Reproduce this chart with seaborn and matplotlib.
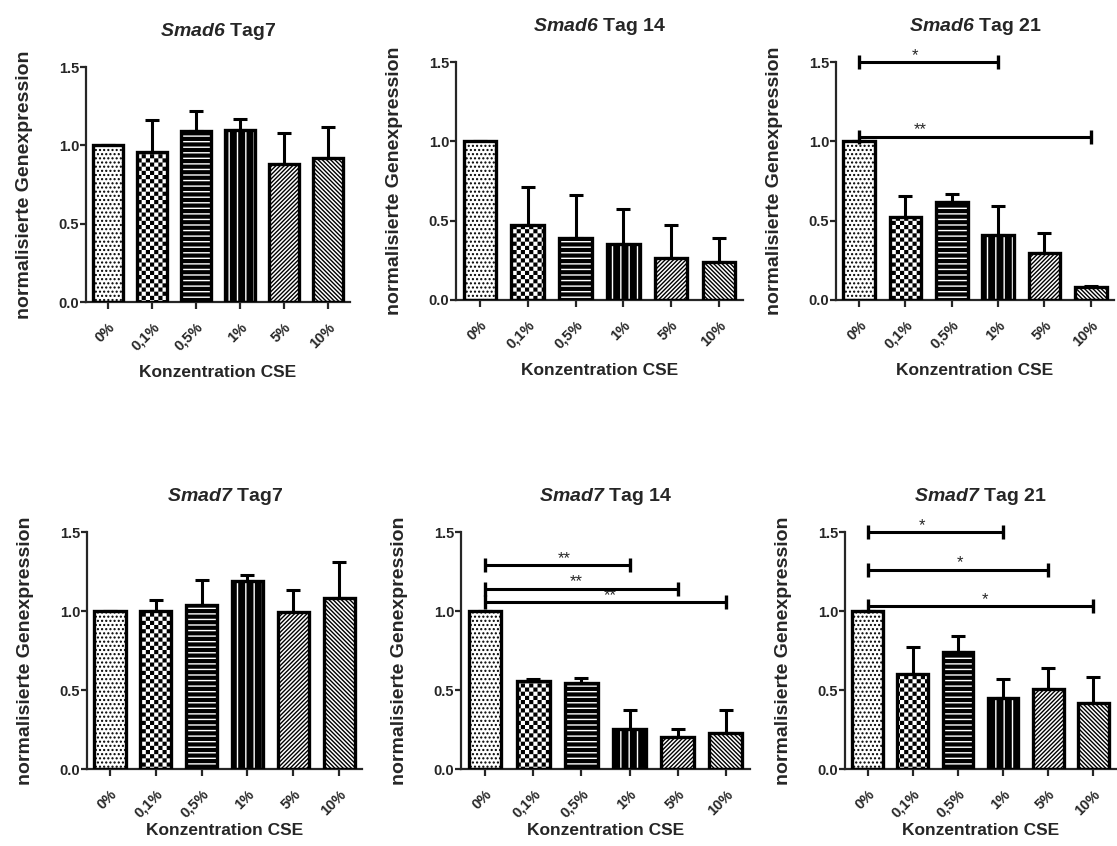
import warnings
import numpy as np
import matplotlib
matplotlib.use("Agg")
import matplotlib.pyplot as plt
import matplotlib.hatch as mhatch
from matplotlib.path import Path
import seaborn as sns

warnings.filterwarnings("ignore")

# ---- data ----
conc = ["0%", "0,1%", "0,5%", "1%", "5%", "10%"]

smad6_d7_mean = [1.00, 0.96, 1.09, 1.10, 0.88, 0.92]
smad6_d7_sd = [0.0, 0.20, 0.13, 0.07, 0.20, 0.20]
smad6_d14_mean = [1.00, 0.47, 0.39, 0.355, 0.265, 0.24]
smad6_d14_sd = [0.0, 0.24, 0.27, 0.22, 0.21, 0.15]
smad6_d21_mean = [1.00, 0.52, 0.62, 0.41, 0.295, 0.08]
smad6_d21_sd = [0.0, 0.135, 0.05, 0.18, 0.13, 0.01]

smad7_d7_mean = [1.00, 1.00, 1.04, 1.19, 0.995, 1.08]
smad7_d7_sd = [0.0, 0.07, 0.155, 0.035, 0.14, 0.23]
smad7_d14_mean = [1.00, 0.56, 0.545, 0.255, 0.20, 0.23]
smad7_d14_sd = [0.0, 0.01, 0.03, 0.12, 0.055, 0.145]
smad7_d21_mean = [1.00, 0.60, 0.74, 0.45, 0.505, 0.415]
smad7_d21_sd = [0.0, 0.17, 0.10, 0.12, 0.135, 0.165]

# significance brackets: (from, to, height, label, star x)
smad6_d21_sig = [(0, 3, 1.50, "*", 1.2), (0, 5, 1.03, "**", 1.32)]
smad7_d14_sig = [(0, 3, 1.29, "**", 1.65), (0, 4, 1.14, "**", 1.9), (0, 5, 1.055, "**", 2.6)]
smad7_d21_sig = [(0, 3, 1.50, "*", 1.2), (0, 4, 1.26, "*", 2.05), (0, 5, 1.03, "*", 2.6)]

# fill / hatch colour / hatch per concentration ('#' = checkerboard, see below)
faces = ["white", "white", "black", "black", "white", "white"]
hatch_cols = ["black", "black", "white", "white", "black", "black"]
hatches = ["....", "#", "---", "||", "////////", "\\" * 8]


# Prism-like checkerboard hatch
class CheckerHatch(mhatch.HatchPatternBase):
    def __init__(self, hatch, density):
        self.n = hatch.count("#") * density * 4
        self.num_vertices = (self.n * self.n // 2) * 5

    def set_vertices_and_codes(self, vertices, codes):
        c = 1.0 / self.n
        ins = 0.007
        sq = np.array([[ins, ins], [c - ins, ins], [c - ins, c - ins],
                       [ins, c - ins], [ins, ins]])
        parts = [sq + [i * c, j * c] for i in range(self.n) for j in range(self.n)
                 if (i + j) % 2 == 0]
        vertices[:] = np.concatenate(parts)
        codes[:] = np.tile([Path.MOVETO, Path.LINETO, Path.LINETO, Path.LINETO,
                            Path.CLOSEPOLY], len(parts))


mhatch._hatch_types.append(CheckerHatch)

panels = [
    ("Smad6", "Tag7", smad6_d7_mean, smad6_d7_sd, [], [0.0770, 0.6430, 0.2363, 0.2778], 8),
    ("Smad6", "Tag 14", smad6_d14_mean, smad6_d14_sd, [], [0.4082, 0.6454, 0.2569, 0.2813], 8),
    ("Smad6", "Tag 21", smad6_d21_mean, smad6_d21_sd, smad6_d21_sig, [0.7484, 0.6454, 0.2489, 0.2813], 8),
    ("Smad7", "Tag7", smad7_d7_mean, smad7_d7_sd, [], [0.0779, 0.0910, 0.2462, 0.2801], 2),
    ("Smad7", "Tag 14", smad7_d14_mean, smad7_d14_sd, smad7_d14_sig, [0.4127, 0.0910, 0.2587, 0.2801], 2),
    ("Smad7", "Tag 21", smad7_d21_mean, smad7_d21_sd, smad7_d21_sig, [0.7565, 0.0910, 0.2426, 0.2801], 2),
]

sns.set_theme(style="ticks")
plt.rcParams["font.family"] = ["Liberation Sans", "DejaVu Sans"]
plt.rcParams["mathtext.fontset"] = "custom"
plt.rcParams["mathtext.bfit"] = "Liberation Sans:italic:bold"
plt.rcParams["hatch.linewidth"] = 1.0

fig = plt.figure(figsize=(11.17, 8.46), dpi=100)

for gene, day, means, sds, sig, pos, xpad in panels:
    ax = fig.add_axes(pos)

    # error bars (upper only), behind the bars
    ax.errorbar(range(len(conc)), means, yerr=[[0] * len(sds), sds], fmt="none",
                ecolor="black", elinewidth=2.2, capsize=5, capthick=2.2, zorder=1)

    sns.barplot(x=conc, y=means, color="white", width=0.68, errorbar=None, ax=ax,
                zorder=2)
    for p, fc, hc, h in zip(ax.patches, faces, hatch_cols, hatches):
        p.set_facecolor(fc)
        p.set_edgecolor(hc)
        p.set_hatch(h)
        p.set_linewidth(0)
    # thick black outlines
    sns.barplot(x=conc, y=means, color="black", width=0.68, errorbar=None, ax=ax,
                fill=False, linewidth=2.4, zorder=3)

    for x0, x1, y, lab, xs in sig:
        ax.plot([x0, x1], [y, y], color="black", lw=2.2, clip_on=False, zorder=4)
        ax.plot([x0, x1], [y, y], ls="none", marker="|", ms=10, mew=2.4,
                color="black", clip_on=False, zorder=4)
        ax.text(xs, y + 0.015, lab, ha="center", va="baseline", fontsize=12)

    ax.set_xlim(-0.5, 5.5)
    ax.set_ylim(0, 1.5)
    ax.set_yticks([0.0, 0.5, 1.0, 1.5])
    ax.set_yticklabels(["0.0", "0.5", "1.0", "1.5"])
    sns.despine(ax=ax)
    for s in ["left", "bottom"]:
        ax.spines[s].set_linewidth(1.6)
    ax.tick_params(axis="y", width=1.6, length=4, labelsize=10.5, pad=1)
    ax.tick_params(axis="x", width=1.6, length=5, labelsize=10.5, pad=8)
    for lbl in ax.get_yticklabels():
        lbl.set_fontweight("bold")
    plt.setp(ax.get_xticklabels(), rotation=45, ha="right", rotation_mode="anchor",
             fontweight="bold")
    ax.set_xlabel("Konzentration CSE", fontsize=12.5, fontweight="bold", labelpad=xpad)
    ax.set_ylabel("normalisierte Genexpression", fontsize=14, fontweight="bold",
                  labelpad=18)
    ax.text(0.5, 1.15, r"$\mathbfit{" + gene + "}$ " + day, transform=ax.transAxes,
            ha="center", va="center", fontsize=14, fontweight="bold")

fig.savefig("out.png", dpi=100, facecolor="white")
